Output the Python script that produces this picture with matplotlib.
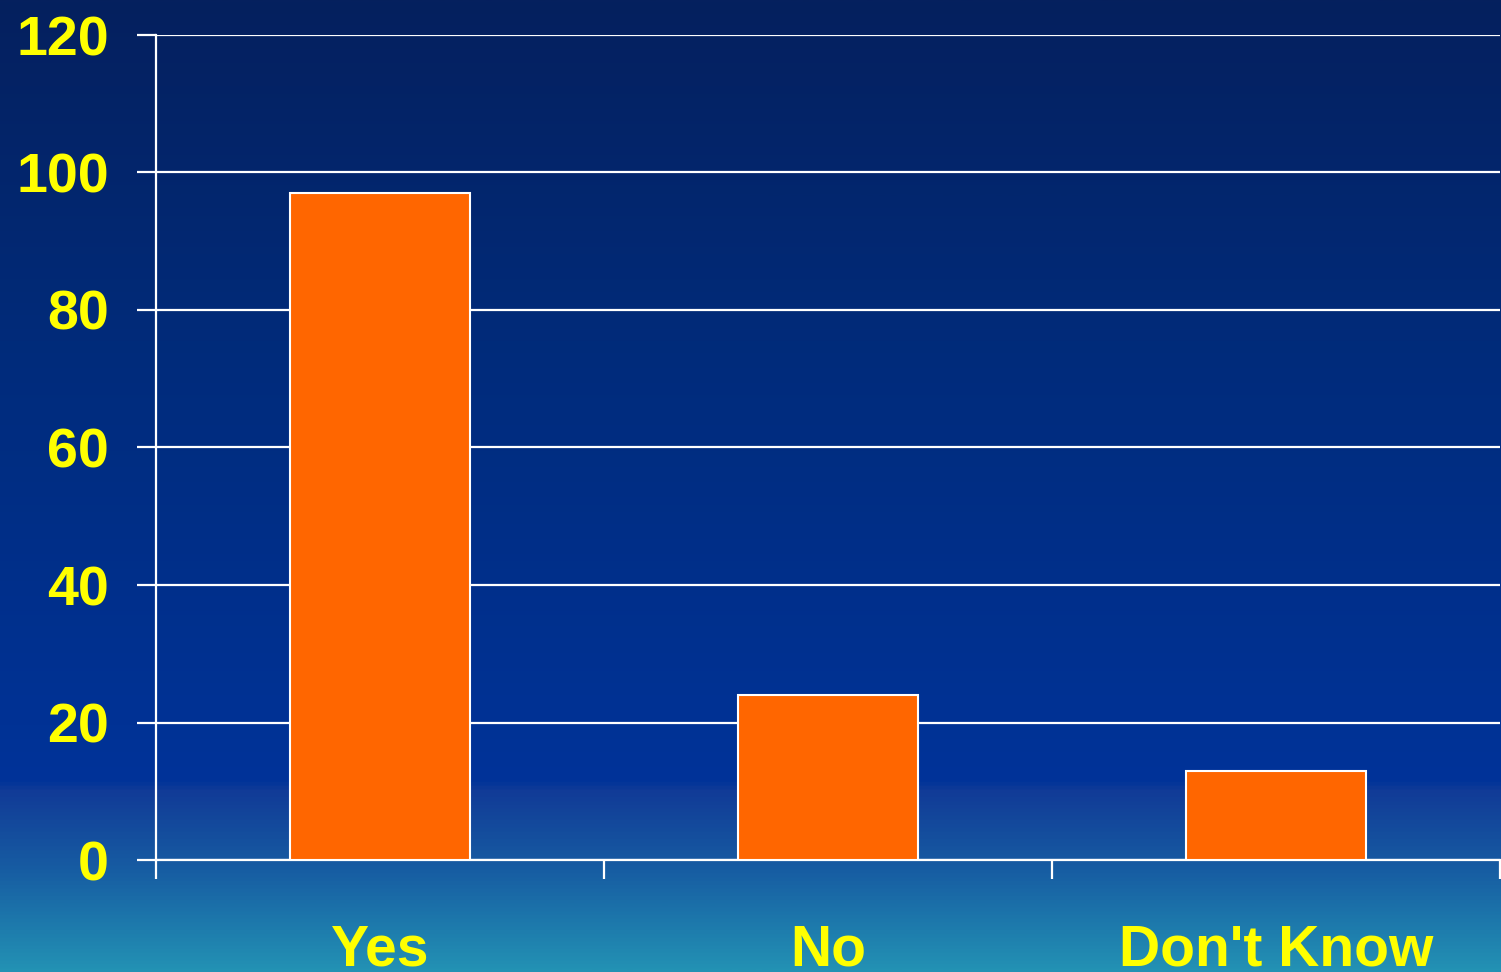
import matplotlib
matplotlib.use("Agg")
import matplotlib.pyplot as plt
import numpy as np
from matplotlib.colors import LinearSegmentedColormap

categories = ["Yes", "No", "Don't Know"]
counts = [97, 24, 13]
yticks = [0, 20, 40, 60, 80, 100, 120]

W, H, DPI = 1501, 972, 100
fig = plt.figure(figsize=(W / DPI, H / DPI), dpi=DPI)

# slide-style background: navy to royal blue, then teal along the bottom
bg = fig.add_axes([0, 0, 1, 1], zorder=0)
stops = [(0.0, "#05205e"), (0.35, "#012b7a"), (0.805, "#003399"),
         (0.815, "#113b97"), (0.90, "#175ea3"), (1.0, "#2392b4")]
cmap = LinearSegmentedColormap.from_list("slide", stops)
grad = np.linspace(0, 1, 512).reshape(-1, 1)
bg.imshow(grad, aspect="auto", cmap=cmap, extent=[0, 1, 0, 1], origin="upper")
bg.set_axis_off()

left, right = 156 / W, 1500 / W
bottom, top = (H - 860) / H, (H - 35) / H
ax = fig.add_axes([left, bottom, right - left, top - bottom], zorder=1)
ax.patch.set_alpha(0)

x = np.arange(len(categories))
ax.bar(x, counts, width=0.4, color="#ff6600", edgecolor="white", linewidth=1.5, zorder=3)

ax.set_xlim(-0.5, len(categories) - 0.5)
ax.set_ylim(0, 120)
ax.set_yticks(yticks)
ax.yaxis.grid(True, color="white", linewidth=1.6, zorder=1)
ax.set_axisbelow(True)

for side in ["top", "right"]:
    ax.spines[side].set_visible(False)
for side in ["left", "bottom"]:
    ax.spines[side].set_color("white")
    ax.spines[side].set_linewidth(1.6)

font = dict(family="Liberation Sans", weight="bold")
ax.tick_params(axis="y", colors="white", width=1.6, length=14, pad=20,
               labelcolor="#ffff00", labelsize=40)
for lab in ax.get_yticklabels():
    lab.set_fontfamily("Liberation Sans")
    lab.set_fontweight("bold")

# group boundaries carry the ticks, group centres carry the labels
ax.set_xticks(np.arange(len(categories) + 1) - 0.5)
ax.set_xticklabels([])
ax.tick_params(axis="x", which="major", colors="white", width=1.6, length=14)
ax.set_xticks(x, minor=True)
ax.set_xticklabels(categories, minor=True, **font)
ax.tick_params(axis="x", which="minor", length=0, pad=46,
               labelcolor="#ffff00", labelsize=41)

fig.savefig("out.png", dpi=DPI)
